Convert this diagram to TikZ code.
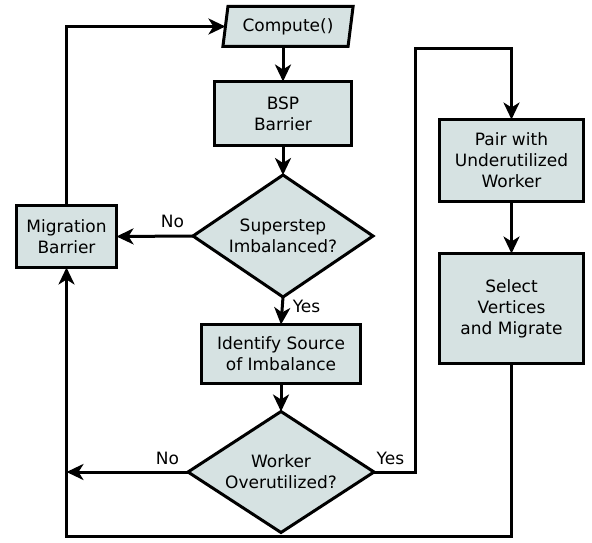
\documentclass[tikz,border=0pt]{standalone}
\usepackage{fontspec}
\setmainfont{DejaVu Sans}
\usetikzlibrary{shapes.geometric,arrows.meta}

\definecolor{boxfill}{RGB}{214,226,226}
\tikzset{
  block/.style={draw, fill=boxfill, line width=3pt, align=center, inner sep=0pt, outer sep=0pt},
  decision/.style={block, diamond, aspect=1.5},
  flow/.style={line width=3pt, -{Stealth[length=17pt,width=16pt,inset=5pt]}},
  lbl/.style={inner sep=0pt}
}

\begin{document}
\begin{tikzpicture}[x=1pt,y=-1pt,font=\fontsize{17}{21}\selectfont]
    \useasboundingbox (0,0) rectangle (592,543);
    % main column
    \node[block, trapezium, trapezium left angle=77, trapezium right angle=103,
          trapezium stretches=true, minimum width=131, minimum height=40] (compute) at (288,26.5) {Compute()};
    \node[block, minimum width=137, minimum height=64] (bsp) at (283,113.5) {BSP\\Barrier};
    \node[decision, minimum width=180, minimum height=122] (superstep) at (283,236) {Superstep\\Imbalanced?};
    \node[block, minimum width=159, minimum height=59] (identify) at (281,354) {Identify Source\\of Imbalance};
    \node[decision, minimum width=186, minimum height=121] (worker) at (281,472) {Worker\\Overutilized?};
    % side boxes
    \node[block, minimum width=100, minimum height=62] (migration) at (66.5,236.5) {Migration\\Barrier};
    \node[block, minimum width=144, minimum height=82] (pair) at (511.5,160.5) {Pair with\\Underutilized\\Worker};
    \node[block, minimum width=144, minimum height=110] (select) at (511.5,308.5) {Select\\Vertices\\and Migrate};

    % connectors
    \draw[flow] (bsp.north |- compute.south) -- (bsp.north);
    \draw[flow] (bsp.south) -- (superstep.north);
    \draw[flow] (superstep.west) -- node[lbl, above=7pt, pos=0.27] {No} (migration.east);
    \draw[flow] (superstep.south) -- node[lbl, right=9pt, pos=0.34] {Yes} (identify.north);
    \draw[flow] (identify.south) -- (worker.north);
    \draw[flow] (worker.west) -- node[lbl, above=6pt, pos=0.17] {No} (migration.south |- worker.west);
    \draw[flow] (worker.east) -| node[lbl, above=6pt, pos=0.2] {Yes} ++(41,-423) -| (pair.north);
    \draw[flow] (pair.south) -- (select.north);
    \draw[flow] (select.south) -- ++(0,173) -| (migration.south);
    \draw[flow] (migration.north) |- (compute.west);
\end{tikzpicture}
\end{document}
